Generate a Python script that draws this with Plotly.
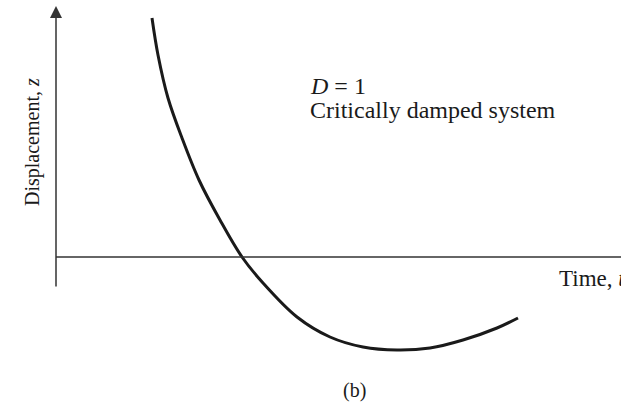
import plotly.graph_objects as go

# curve (time, displacement)
time_t = [1.92, 2.04, 2.24, 2.52, 2.86, 3.28, 3.72, 4.14, 4.82, 5.48, 6.14,
          6.82, 7.48, 8.14, 8.82, 9.24]
disp_z = [4.78, 4.04, 3.18, 2.38, 1.54, 0.74, 0.00, -0.52, -1.20, -1.60, -1.80,
          -1.86, -1.82, -1.66, -1.42, -1.22]

y_axis_span = [-0.62, 5.02]
x_axis_span = [0.0, 11.8]

SERIF = "Liberation Serif, Times New Roman, serif"
INK = "#1a1a1a"
AXIS = "#333333"

fig = go.Figure(
    go.Scatter(
        x=time_t,
        y=disp_z,
        mode="lines",
        line=dict(color=INK, width=3, shape="spline", smoothing=1.0),
        hoverinfo="skip",
        showlegend=False,
    )
)

# horizontal time axis
fig.add_shape(
    type="line", xref="x", yref="y",
    x0=x_axis_span[0], x1=x_axis_span[1], y0=0, y1=0,
    line=dict(color=AXIS, width=1.5),
)
# vertical displacement axis with arrow
fig.add_annotation(
    x=0, y=y_axis_span[1], ax=0, ay=y_axis_span[0],
    xref="x", yref="y", axref="x", ayref="y",
    showarrow=True, arrowhead=2, arrowsize=1.6, arrowwidth=1.5,
    arrowcolor=AXIS, text="",
)

fig.add_annotation(
    x=-0.48, y=2.30, xref="x", yref="y",
    text="Displacement, <i>z</i>", textangle=-90, showarrow=False,
    font=dict(family=SERIF, size=20, color=INK),
)
fig.add_annotation(
    x=5.04, y=3.42, xref="x", yref="y", xanchor="left",
    text="<i>D</i> = 1", showarrow=False,
    font=dict(family=SERIF, size=24, color=INK),
)
fig.add_annotation(
    x=5.04, y=2.94, xref="x", yref="y", xanchor="left",
    text="Critically damped system", showarrow=False,
    font=dict(family=SERIF, size=24, color=INK),
)
fig.add_annotation(
    x=10.02, y=-0.42, xref="x", yref="y", xanchor="left",
    text="Time, <i>t</i>", showarrow=False,
    font=dict(family=SERIF, size=23, color=INK),
)
fig.add_annotation(
    x=5.96, y=-2.66, xref="x", yref="y",
    text="(b)", showarrow=False,
    font=dict(family=SERIF, size=20, color=INK),
)

fig.update_layout(
    width=621,
    height=402,
    margin=dict(l=0, r=0, t=0, b=0),
    paper_bgcolor="white",
    plot_bgcolor="white",
    xaxis=dict(range=[-1.12, 11.3], visible=False, fixedrange=True),
    yaxis=dict(range=[-2.9, 5.14], visible=False, fixedrange=True),
    showlegend=False,
)

# drop the default page margin so the figure fills the window exactly
fig.write_html(
    "out.html",
    config={"displayModeBar": False},
    post_script="document.body.style.margin='0';document.body.style.overflow='hidden';",
)
